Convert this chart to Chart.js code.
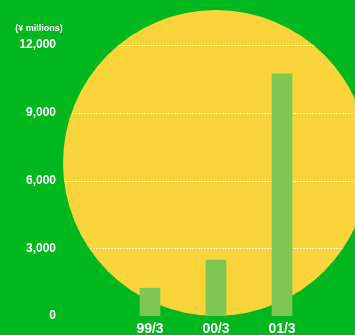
<!DOCTYPE html>
<html>
<head>
<meta charset="utf-8">
<script src="https://cdn.jsdelivr.net/npm/chart.js@4/dist/chart.umd.min.js"></script>
<style>
  html, body { margin: 0; padding: 0; background: #00b81e; }
  canvas { display: block; }
</style>
</head>
<body>
<canvas id="salesChart" width="355" height="335"></canvas>
<script>
// data
const periods = ['99/3', '00/3', '01/3'];
const sales = [1230, 2480, 10720];
const yTicks = [0, 3000, 6000, 9000, 12000];
const unitLabel = '(¥ millions)';

const GREEN = '#00b81e';
const YELLOW = '#f9d43a';
const BAR = '#7dc752';
const FONT = 'Arial, "Liberation Sans", Helvetica, sans-serif';

// green background, yellow disc, dashed grid lines clipped to the disc
const discPlugin = {
    id: 'disc',
    beforeDraw(chart) {
        const ctx = chart.ctx;
        const x = chart.scales.x;
        const y = chart.scales.y;
        const r = 153;
        const cx = x.getPixelForValue(1);
        const cy = y.getPixelForValue(0) - r;

        ctx.save();
        ctx.fillStyle = GREEN;
        ctx.fillRect(0, 0, chart.width, chart.height);

        ctx.beginPath();
        ctx.arc(cx, cy, r, 0, Math.PI * 2);
        ctx.fillStyle = YELLOW;
        ctx.fill();
        ctx.clip();

        ctx.strokeStyle = 'rgba(255,255,255,0.85)';
        ctx.lineWidth = 1;
        ctx.setLineDash([2, 1]);
        y.ticks.forEach(t => {
            if (t.value === 0) return;
            const py = Math.round(y.getPixelForValue(t.value)) + 0.5;
            ctx.beginPath();
            ctx.moveTo(0, py);
            ctx.lineTo(chart.width, py);
            ctx.stroke();
        });
        ctx.restore();
    },
    afterDraw(chart) {
        const ctx = chart.ctx;
        ctx.save();
        ctx.fillStyle = '#ffffff';
        ctx.font = 'bold 9px ' + FONT;
        ctx.textAlign = 'center';
        ctx.textBaseline = 'middle';
        ctx.fillText(unitLabel, 39, 29);
        ctx.restore();
    }
};

new Chart(document.getElementById('salesChart'), {
    type: 'bar',
    data: {
        labels: periods,
        datasets: [{
            data: sales,
            backgroundColor: BAR,
            barThickness: 20
        }]
    },
    options: {
        responsive: false,
        animation: false,
        layout: {
            padding: { top: 45, right: 40, left: 0, bottom: 0 }
        },
        plugins: {
            legend: { display: false },
            tooltip: { enabled: false }
        },
        scales: {
            x: {
                grid: { display: false, drawTicks: false },
                border: { display: false },
                ticks: {
                    color: '#ffffff',
                    padding: 5,
                    font: { family: FONT, size: 14, weight: 'bold' }
                },
                afterFit(scale) {
                    scale.height = 19;
                    scale.paddingLeft = 0;
                    scale.paddingRight = 0;
                }
            },
            y: {
                min: 0,
                max: 12000,
                afterBuildTicks(scale) {
                    scale.ticks = yTicks.map(v => ({ value: v }));
                },
                grid: { display: false, drawTicks: false },
                border: { display: false },
                ticks: {
                    color: '#ffffff',
                    padding: 61,
                    font: { family: FONT, size: 12, weight: 'bold' },
                    callback: v => v.toLocaleString('en-US')
                },
                afterFit(scale) {
                    // keep the big label gap from pushing the plot area down
                    scale.width = 117;
                    scale.paddingTop = 0;
                    scale.paddingBottom = 0;
                }
            }
        }
    },
    plugins: [discPlugin]
});
</script>
</body>
</html>
